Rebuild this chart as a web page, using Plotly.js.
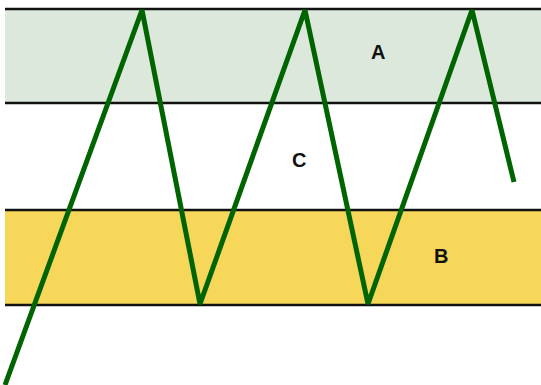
<!DOCTYPE html>
<html>
<head>
<meta charset="utf-8">
<script src="https://cdn.plot.ly/plotly-3.0.1.min.js"></script>
<style>
  html, body { margin: 0; padding: 0; background: #fff; }
</style>
</head>
<body>
<div id="plot" style="width:541px;height:385px;"></div>
<script>
// zigzag vertices (x along the strip, y = level from bottom)
let zigX = [5, 142, 200, 305, 368, 472, 514];
let zigY = [0, 375, 81, 375, 81, 375, 203];

// band limits: name, bottom, top, fill
let bandNames = ["A", "C", "B"];
let bandBottom = [282, 175, 80];
let bandTop = [376, 282, 175];
let bandFill = ["#dde8dc", "#ffffff", "#f6d75a"];

// label positions
let labelX = [378, 299, 441];
let labelY = [333, 225, 129];

let shapes = [];
for (let i = 0; i < bandNames.length; i++) {
    shapes.push({
        type: "rect", layer: "below",
        xref: "x", yref: "y",
        x0: 5, x1: 541, y0: bandBottom[i], y1: bandTop[i],
        fillcolor: bandFill[i], line: {width: 0}
    });
}
// black borders (only around the coloured bands)
[376, 282, 175, 80].forEach(function(v) {
    shapes.push({
        type: "line", layer: "below",
        xref: "x", yref: "y",
        x0: 5, x1: 541, y0: v, y1: v,
        line: {color: "#111", width: 2.5}
    });
});

let zigTrace = {
    x: zigX,
    y: zigY,
    mode: "lines",
    type: "scatter",
    line: {color: "#006400", width: 5},
    cliponaxis: false,
    hoverinfo: "skip"
};

let annotations = bandNames.map(function(n, i) {
    return {
        x: labelX[i], y: labelY[i], xref: "x", yref: "y",
        text: "<b>" + n + "</b>", showarrow: false,
        font: {family: "Liberation Sans, Arial, sans-serif", size: 20, color: "#111"}
    };
});

let layout = {
    width: 541,
    height: 385,
    margin: {l: 0, r: 0, t: 0, b: 0, pad: 0},
    paper_bgcolor: "#fff",
    plot_bgcolor: "#fff",
    showlegend: false,
    xaxis: {range: [0, 541], visible: false, fixedrange: true},
    yaxis: {range: [0, 385], visible: false, fixedrange: true},
    shapes: shapes,
    annotations: annotations
};

Plotly.newPlot("plot", [zigTrace], layout, {displayModeBar: false, staticPlot: true});
</script>
</body>
</html>
